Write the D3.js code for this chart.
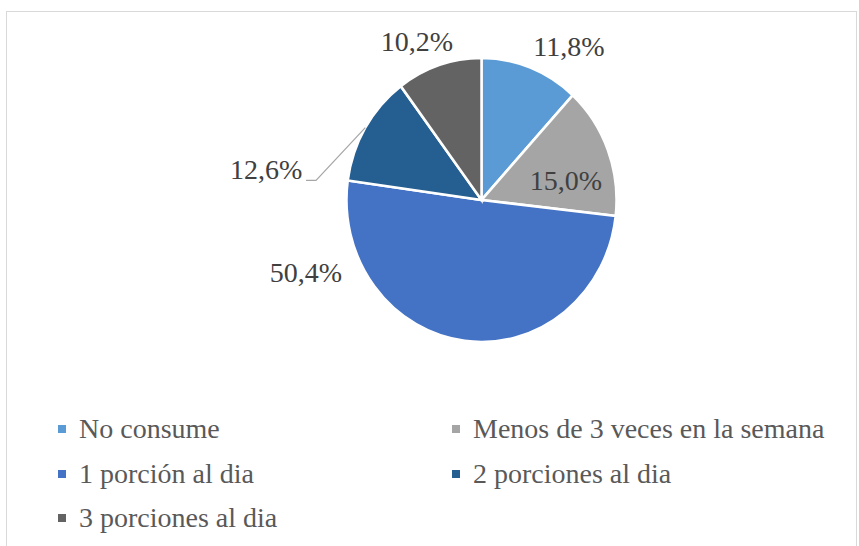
<!DOCTYPE html>
<html>
<head>
<meta charset="utf-8">
<script src="https://cdn.jsdelivr.net/npm/d3@7"></script>
<style>
  body { margin: 0; background: #fff; }
  #wrap { position: relative; width: 859px; height: 546px; }
  #wrap svg { position: absolute; left: 0; top: 0; }
</style>
</head>
<body>
<div id="wrap">
<svg id="chart" width="859" height="546"></svg>
<svg id="texts" width="859" height="546"></svg>
</div>
<script>
// datos
var categories = ["No consume", "Menos de 3 veces en la semana", "1 porción al dia", "2 porciones al dia", "3 porciones al dia"];
var values = [11.8, 15.0, 50.4, 12.6, 10.2];
var labels = ["11,8%", "15,0%", "50,4%", "12,6%", "10,2%"];
var colors = ["#5b9bd5", "#a5a5a5", "#4472c4", "#255e91", "#636363"];

var svg = d3.select("#chart");
var txt = d3.select("#texts");

// marco del grafico
svg.append("rect")
  .attr("x", 6.5).attr("y", 11.5)
  .attr("width", 850).attr("height", 545)
  .style("fill", "none")
  .style("stroke", "#d9d9d9");

var cx = 481.5, cy = 200, r = 135, sy = 1.052;

var pie = d3.pie().sort(null).value(function(d){ return d; });
var arcs = pie(values);
var arc = d3.arc().innerRadius(0).outerRadius(r);

var g = svg.append("g")
  .attr("transform", "translate(" + cx + "," + cy + ") scale(1," + sy + ")");

g.selectAll("path")
  .data(arcs)
  .enter().append("path")
  .attr("d", arc)
  .style("fill", function(d, i){ return colors[i]; })
  .style("stroke", "#fff")
  .style("stroke-width", 2.5);

// posiciones de etiquetas en unidades del radio (relativas al centro)
var labelPos = [[0.648, -1.13], [0.626, -0.144], [-1.30, 0.544], [-1.596, -0.219], [-0.478, -1.167]];

txt.selectAll("text.lbl")
  .data(arcs)
  .enter().append("text")
  .attr("class", "lbl")
  .attr("x", function(d, i){ return cx + labelPos[i][0] * r; })
  .attr("y", function(d, i){ return cy + labelPos[i][1] * r + 9; })
  .attr("text-anchor", "middle")
  .style("font-family", "'Times New Roman'")
  .style("font-size", "28px")
  .style("fill", "#404040")
  .text(function(d, i){ return labels[i]; });

// linea guia para 12,6%
var d3arc = arcs[3];
var mid = (d3arc.startAngle + d3arc.endAngle) / 2;
var edge = [cx + Math.sin(mid) * r, cy - Math.cos(mid) * r * sy];
var tx = cx + labelPos[3][0] * r, ty = cy + labelPos[3][1] * r;
svg.append("path")
  .attr("d", d3.line()([edge, [tx + 50, ty + 10], [tx + 40, ty + 10]]))
  .style("fill", "none")
  .style("stroke", "#a6a6a6")
  .style("stroke-width", 1.2);

// leyenda
var legX = [58, 452], legY = [429, 474, 518];
svg.selectAll("rect.key")
  .data(categories)
  .enter().append("rect")
  .attr("class", "key")
  .attr("x", function(d, i){ return legX[i % 2]; })
  .attr("y", function(d, i){ return legY[Math.floor(i / 2)] - 4; })
  .attr("width", 8).attr("height", 8)
  .style("fill", function(d, i){ return colors[i]; });

txt.selectAll("text.leg")
  .data(categories)
  .enter().append("text")
  .attr("class", "leg")
  .attr("x", function(d, i){ return legX[i % 2] + 21; })
  .attr("y", function(d, i){ return legY[Math.floor(i / 2)] + 9; })
  .style("font-family", "'Times New Roman'")
  .style("font-size", "28px")
  .style("fill", "#595959")
  .text(function(d){ return d; });
</script>
</body>
</html>
